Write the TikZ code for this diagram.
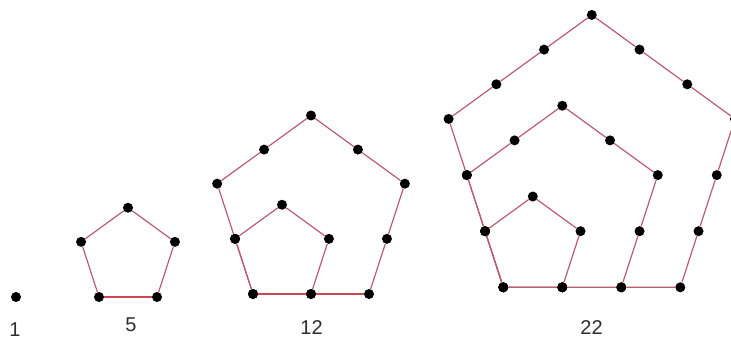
\documentclass[tikz,border=0pt]{standalone}
\usepackage{fontspec}
\setmainfont{Liberation Sans}
\usetikzlibrary{calc}
\definecolor{pentline}{RGB}{185,92,110}
\definecolor{pentred}{RGB}{205,70,80}
\definecolor{numtext}{RGB}{45,45,45}
\tikzset{
  dot/.style={circle,fill=black,inner sep=0pt,minimum size=10pt},
  edge/.style={line width=1.2pt},
  numlabel/.style={inner sep=0pt,text=numtext,font=\fontsize{20}{20}\selectfont}
}
\begin{document}
\begin{tikzpicture}[x=1pt,y=-1pt]
\useasboundingbox (0,0) rectangle (731,340);
% figure 1
\node[dot] (a) at (16,297) {};
\node[numlabel] (la) at (15,330) {1};
% figures 5, 12, 22
\foreach \f/\x/\y/\d/\n/\bc in {b/99/297/58/1/pentred, c/253/294/58/2/pentred, d/503.3/287.3/59/3/pentline} {
  \foreach \k in {1,...,\n} {
    \pgfmathsetmacro\L{\k*\d}
    \coordinate (\f\k v0) at (\x,\y);
    \coordinate (\f\k v1) at (\x+\L,\y);
    \coordinate (\f\k v2) at (\x+1.309017*\L,\y-0.951057*\L);
    \coordinate (\f\k v3) at (\x+0.5*\L,\y-1.538842*\L);
    \coordinate (\f\k v4) at (\x-0.309017*\L,\y-0.951057*\L);
    \coordinate (\f\k v5) at (\x,\y);
    \pgfmathtruncatemacro\m{5*\k-1}
    \foreach \j in {0,...,\m} {
      \pgfmathtruncatemacro\s{floor(\j/\k)}
      \pgfmathtruncatemacro\sn{\s+1}
      \pgfmathsetmacro\t{(\j-\s*\k)/\k}
      \node[dot] (\f\k p\j) at ($(\f\k v\s)!\t!(\f\k v\sn)$) {};
    }
    \foreach \j in {0,...,\m} {
      \pgfmathtruncatemacro\jn{mod(\j+1,5*\k)}
      \ifnum\j<\k \edef\ec{\bc}\else\def\ec{pentline}\fi
      \draw[edge,draw=\ec] (\f\k p\j) -- (\f\k p\jn);
    }
  }
}
\node[numlabel] (lb) at (131,325) {5};
\node[numlabel] (lc) at (311.5,327.5) {12};
\node[numlabel] (ld) at (591.5,327.5) {22};
\end{tikzpicture}
\end{document}
